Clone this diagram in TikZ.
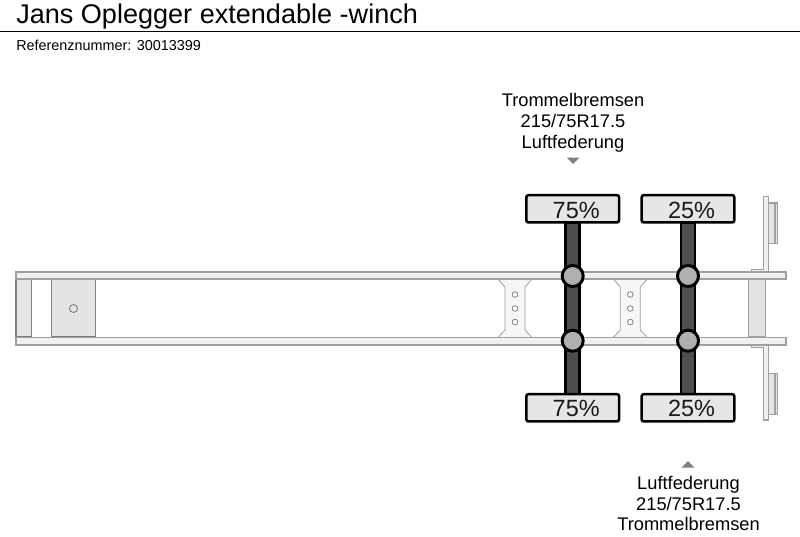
\documentclass[tikz,border=0pt]{standalone}
\usepackage{fontspec}
\setmainfont{Liberation Sans}
\definecolor{railfill}{HTML}{F0F0F0}
\definecolor{railline}{HTML}{A0A0A0}
\definecolor{partfill}{HTML}{E4E4E4}
\definecolor{crossfill}{HTML}{F6F6F6}
\definecolor{axlefill}{HTML}{4D4D4D}
\definecolor{hubfill}{HTML}{B0B0B0}
\definecolor{tirefill}{HTML}{E6E6E6}
\definecolor{markgray}{HTML}{808080}
\tikzset{
  rail/.style={draw=railline,fill=railfill,line width=.9pt},
  part/.style={draw=railline,fill=partfill,line width=.9pt},
  darkpart/.style={draw=black!50,fill=partfill,line width=.9pt},
  crossm/.style={draw=railline,fill=crossfill,line width=.6pt},
  hole/.style={circle,draw=black!50,fill=white,line width=.6pt,minimum size=4.2pt,inner sep=0pt},
  axle/.style={draw=black,fill=axlefill,line width=1.9pt},
  hub/.style={circle,draw=black,fill=hubfill,line width=2.2pt,minimum size=15.8pt,inner sep=0pt},
  tire/.style={draw=black,fill=tirefill,line width=1.9pt,rounded corners=1.6pt,minimum width=69.5pt,minimum height=20.5pt,inner sep=0pt},
  pct/.style={font=\fontsize{17.6pt}{20pt}\selectfont,inner sep=0pt,text=black!90},
  label/.style={font=\fontsize{13.7pt}{15.6pt}\selectfont,align=center,inner sep=0pt},
  marker/.style={fill=markgray,draw=none}
}
\begin{document}
\begin{tikzpicture}[x=.75pt,y=-.75pt]
\path[use as bounding box,fill=white] (0,0) rectangle (800,536);
% header
\node[anchor=base west,inner sep=0pt,font=\fontsize{20.3pt}{24pt}\selectfont] (title) at (16,23) {Jans Oplegger extendable -winch};
\coordinate (ruleL) at (0,31); \coordinate (ruleR) at (800,31);
\draw[black,line width=.75pt] (ruleL) -- (ruleR);
\node[anchor=base west,inner sep=0pt,font=\fontsize{10.8pt}{12pt}\selectfont] (ref) at (16,50) {Referenznummer: 30013399};
% front parts
\path[darkpart] (16,279) rectangle (31.5,337);
\path[darkpart] (51.5,279) rectangle (95.5,337);
\node[hole,minimum size=6pt,draw=black!55,fill=partfill] (pin) at (73.5,308.5) {};
% cross members
\foreach \cx/\nm in {515/a,630.3/b}{
  \path[crossm] (\cx-17,279) -- (\cx-10,287) -- (\cx-10,330) -- (\cx-17,337.5) -- (\cx+17,337.5) -- (\cx+10,330) -- (\cx+10,287) -- (\cx+17,279) -- cycle;
  \node[hole] (h\nm1) at (\cx,294.5) {};
  \node[hole] (h\nm2) at (\cx,308.5) {};
  \node[hole] (h\nm3) at (\cx,322) {};
}
% rear parts
\path[part] (748.3,279) rectangle (765.7,337);
\path[part] (768.3,203) rectangle (777.5,243.3);
\path[part] (768.3,203) rectangle (775,243.3);
\path[part] (768.3,373.3) rectangle (777.5,414.3);
\path[part] (768.3,373.3) rectangle (775,414.3);
\path[part,fill=railfill] (751.7,272) -- (751.7,269.3) -- (763.5,269.3) -- (763.5,196.7) -- (768.3,196.7) -- (768.3,272) -- cycle;
\path[part,fill=railfill] (751.7,345) -- (751.7,347.7) -- (763.5,347.7) -- (763.5,420) -- (768.3,420) -- (768.3,345) -- cycle;
% rails
\path[rail] (16,272) rectangle (786,279);
\path[rail] (16,337.5) rectangle (786,345);
% axles and wheels
\foreach \ax/\tx/\p/\nm in {572.7/572.7/75/a,688/688/25/b}{
  \path[axle] (\ax-7,223) rectangle (\ax+7,394);
  \node[hub] (hubt\nm) at (\ax,276) {};
  \node[hub] (hubb\nm) at (\ax,340.7) {};
  \node[tire] (tiret\nm) at (\tx,208.8) {};
  \node[tire] (tireb\nm) at (\tx,407.8) {};
  \node[pct] at ([xshift=3.5*.75pt,yshift=-.9pt]tiret\nm.center) {\p\%};
  \node[pct] at ([xshift=3.5*.75pt,yshift=-.6pt]tireb\nm.center) {\p\%};
}
% labels
\node[label] (ltop) at (573,122.5) {Trommelbremsen\\215/75R17.5\\Luftfederung};
\node[label] (lbot) at (688.5,503.5) {Luftfederung\\215/75R17.5\\Trommelbremsen};
\path[marker] (566.5,157.5) -- (579.5,157.5) -- (573,164) -- cycle;
\path[marker] (681.5,467.5) -- (694.5,467.5) -- (688,461) -- cycle;
\end{tikzpicture}
\end{document}
